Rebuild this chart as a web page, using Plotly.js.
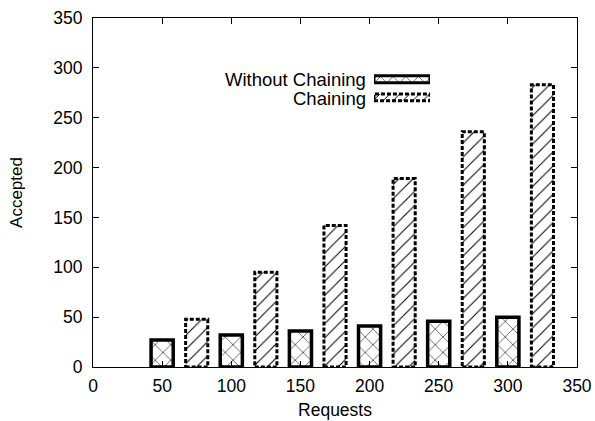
<!DOCTYPE html>
<html>
<head>
<meta charset="utf-8">
<script src="https://cdn.plot.ly/plotly-3.0.1.min.js"></script>
<style>html,body{margin:0;padding:0;background:#fff;}#chart{width:595px;height:421px;}</style>
</head>
<body>
<div id="chart"></div>
<script>
// Data
var requests = [50, 100, 150, 200, 250, 300];
var withoutChaining = [27, 32, 36, 41, 46, 50];
var chaining = [48, 95, 142, 189, 236, 283];
var seriesNames = ['Without Chaining', 'Chaining'];
var axisTicks = [0, 50, 100, 150, 200, 250, 300, 350];

var FONT = 'Liberation Sans, Arial, sans-serif';
var barW = 16;
var chainShift = 25;

var crossPattern = {shape: 'x', size: 11, solidity: 0.1, fgcolor: '#000', fgopacity: 1, bgcolor: '#fff', fillmode: 'overlay'};
var slashPattern = {shape: '/', size: 10, solidity: 0.1, fgcolor: '#000', fgopacity: 1, bgcolor: '#fff', fillmode: 'overlay'};

var traces = [
  {
    type: 'bar', name: seriesNames[0], x: requests, y: withoutChaining,
    width: barW, offset: -barW / 2,
    marker: {color: '#fff', line: {color: '#000', width: 3.5}, pattern: crossPattern},
    showlegend: false, hoverinfo: 'skip'
  },
  {
    type: 'bar', name: seriesNames[1], x: requests, y: chaining,
    width: barW, offset: chainShift - barW / 2,
    marker: {color: '#fff', line: {color: '#fff', width: 0}, pattern: slashPattern},
    showlegend: false, hoverinfo: 'skip'
  },
  // legend samples
  {
    type: 'bar', orientation: 'h', x: [1], y: [1], width: 0.38,
    xaxis: 'x2', yaxis: 'y2',
    marker: {color: '#fff', line: {color: '#000', width: 3},
      pattern: {shape: 'x', size: 9, solidity: 0.12, fgcolor: '#000', fgopacity: 1, bgcolor: '#fff', fillmode: 'overlay'}},
    showlegend: false, hoverinfo: 'skip'
  },
  {
    type: 'bar', orientation: 'h', x: [1], y: [0], width: 0.38,
    xaxis: 'x2', yaxis: 'y2',
    marker: {color: '#fff', line: {color: '#fff', width: 0},
      pattern: {shape: '/', size: 7, solidity: 0.14, fgcolor: '#000', fgopacity: 1, bgcolor: '#fff', fillmode: 'overlay'}},
    showlegend: false, hoverinfo: 'skip'
  }
];

// dashed borders for chaining bars
var shapes = requests.map(function (r, i) {
  return {
    type: 'rect', xref: 'x', yref: 'y', layer: 'above',
    x0: r + chainShift - barW / 2, x1: r + chainShift + barW / 2,
    y0: 0, y1: chaining[i],
    line: {color: '#000', width: 3, dash: '4px,2px'}
  };
});
shapes.push({
  type: 'rect', xref: 'x2', yref: 'y2', layer: 'above',
  x0: 0, x1: 1, y0: -0.19, y1: 0.19,
  line: {color: '#000', width: 3, dash: '4px,2px'}
});

var layout = {
  width: 595, height: 421,
  margin: {l: 93, r: 18, t: 18, b: 54},
  paper_bgcolor: '#fff', plot_bgcolor: '#fff',
  font: {family: FONT, size: 17, color: '#000'},
  barmode: 'overlay',
  showlegend: false,
  xaxis: {
    range: [0, 350], tickvals: axisTicks, ticktext: axisTicks.map(String),
    ticks: 'inside', ticklen: 6, tickcolor: '#000', mirror: 'ticks',
    showline: true, linecolor: '#000', linewidth: 1, showgrid: false, zeroline: false,
    ticklabelstandoff: 3,
    title: {text: 'Requests', font: {size: 17.5}, standoff: 8},
    tickfont: {size: 17.5}
  },
  yaxis: {
    range: [0, 350], tickvals: axisTicks, ticktext: axisTicks.map(String),
    ticks: 'inside', ticklen: 6, tickcolor: '#000', mirror: 'ticks',
    showline: true, linecolor: '#000', linewidth: 1, showgrid: false, zeroline: false,
    ticklabelstandoff: 6,
    title: {text: 'Accepted', font: {size: 17}, standoff: 26},
    tickfont: {size: 17.5}
  },
  xaxis2: {domain: [0.5806, 0.6963], range: [0, 1], visible: false, anchor: 'y2', fixedrange: true},
  yaxis2: {domain: [0.7464, 0.8507], range: [-0.5, 1.5], visible: false, anchor: 'x2', fixedrange: true},
  annotations: [
    {xref: 'paper', yref: 'paper', x: 0.5682, y: 0.8226, xanchor: 'right', yanchor: 'middle',
     text: seriesNames[0], showarrow: false, font: {size: 18.5}},
    {xref: 'paper', yref: 'paper', x: 0.5682, y: 0.7704, xanchor: 'right', yanchor: 'middle',
     text: seriesNames[1], showarrow: false, font: {size: 18.5}}
  ],
  shapes: shapes
};

Plotly.newPlot('chart', traces, layout, {displayModeBar: false, staticPlot: true});
</script>
</body>
</html>
